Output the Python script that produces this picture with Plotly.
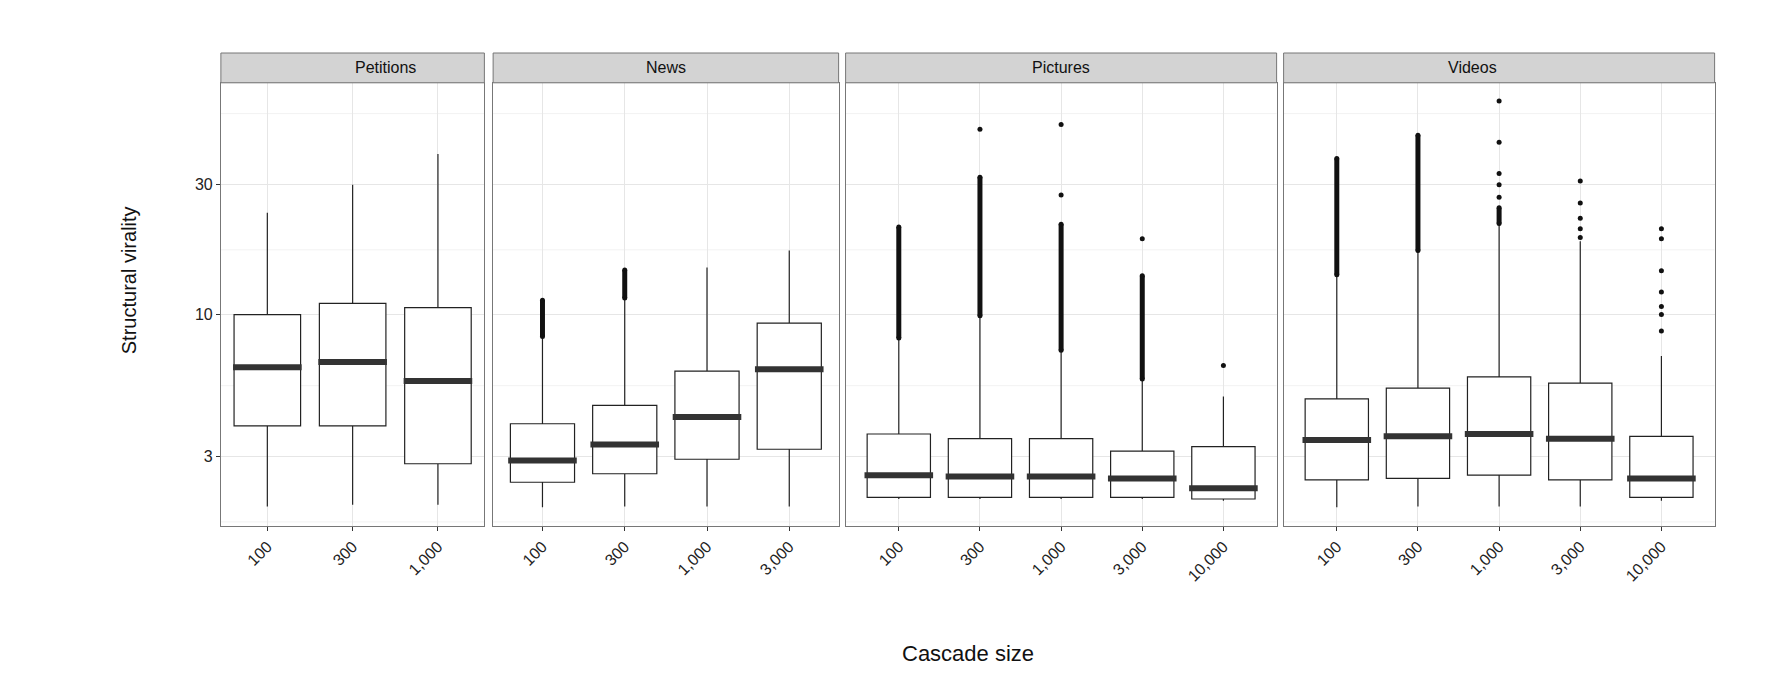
import plotly.graph_objects as go

panels = ["Petitions", "News", "Pictures", "Videos"]
sizes = {
    "Petitions": ["100", "300", "1,000"],
    "News": ["100", "300", "1,000", "3,000"],
    "Pictures": ["100", "300", "1,000", "3,000", "10,000"],
    "Videos": ["100", "300", "1,000", "3,000", "10,000"],
}
low = {"Petitions": [1.97, 2.0, 2.0], "News": [1.96, 1.97, 1.97, 1.97],
       "Pictures": [2.1, 2.1, 2.1, 2.1, 2.07], "Videos": [1.96, 1.97, 1.97, 1.97, 2.07]}
q1 = {"Petitions": [3.9, 3.9, 2.83], "News": [2.42, 2.6, 2.94, 3.2],
      "Pictures": [2.13, 2.13, 2.13, 2.13, 2.1], "Videos": [2.47, 2.5, 2.57, 2.47, 2.13]}
med = {"Petitions": [6.4, 6.7, 5.7], "News": [2.91, 3.33, 4.2, 6.3],
       "Pictures": [2.57, 2.54, 2.54, 2.5, 2.3], "Videos": [3.46, 3.57, 3.64, 3.5, 2.5]}
q3 = {"Petitions": [10.0, 11.0, 10.6], "News": [3.97, 4.64, 6.2, 9.3],
      "Pictures": [3.64, 3.5, 3.5, 3.15, 3.27], "Videos": [4.9, 5.37, 5.9, 5.6, 3.57]}
high = {"Petitions": [23.7, 30.0, 38.9], "News": [8.3, 11.5, 14.9, 17.2],
        "Pictures": [8.2, 9.9, 7.4, 5.8, 5.0], "Videos": [14.0, 17.2, 21.6, 18.6, 7.05]}
# dense outlier streaks: (size, from, to)
streaks = {"News": [("100", 8.3, 11.3), ("300", 11.5, 14.6)],
           "Pictures": [("100", 8.2, 21.0), ("300", 9.9, 32.0), ("1,000", 7.4, 21.5), ("3,000", 5.8, 13.9)],
           "Videos": [("100", 14.0, 37.5), ("300", 17.2, 45.6), ("1,000", 21.6, 24.7)]}
# isolated outliers
points = {"Pictures": [("300", 48.0), ("1,000", 27.5), ("1,000", 50.0), ("3,000", 19.0), ("10,000", 6.5)],
          "Videos": [("1,000", 27.0), ("1,000", 30.0), ("1,000", 33.0), ("1,000", 43.0), ("1,000", 61.0),
                     ("3,000", 19.2), ("3,000", 20.7), ("3,000", 22.6), ("3,000", 25.7), ("3,000", 31.0),
                     ("10,000", 8.7), ("10,000", 10.0), ("10,000", 10.7), ("10,000", 12.1),
                     ("10,000", 14.5), ("10,000", 19.0), ("10,000", 20.7)]}

domains = [(0.122, 0.273), (0.278, 0.476), (0.480, 0.727), (0.731, 0.978)]
ydom = [0, 0.937]

fig = go.Figure()
for i, p in enumerate(panels):
    xa = "x" if i == 0 else f"x{i+1}"
    ya = "y" if i == 0 else f"y{i+1}"
    fig.add_trace(go.Box(x=sizes[p], q1=q1[p], median=med[p], q3=q3[p],
                         lowerfence=low[p], upperfence=high[p],
                         fillcolor="white", line=dict(color="#222", width=1.2),
                         width=0.78, whiskerwidth=0, boxpoints=False, xaxis=xa, yaxis=ya,
                         showlegend=False, hoverinfo="skip"))
    fig.add_trace(go.Scatter(x=sizes[p], y=med[p], mode="markers", xaxis=xa, yaxis=ya,
                             marker=dict(symbol="line-ew-open", size=49, color="#333",
                                         line=dict(color="#333", width=6)),
                             showlegend=False, hoverinfo="skip"))
    for s, a, b in streaks.get(p, []):
        fig.add_trace(go.Scatter(x=[s, s], y=[a, b], mode="lines+markers", xaxis=xa, yaxis=ya,
                                 line=dict(color="#111", width=5), marker=dict(size=5, color="#111"),
                                 showlegend=False, hoverinfo="skip"))
    if p in points:
        fig.add_trace(go.Scatter(x=[s for s, _ in points[p]], y=[v for _, v in points[p]],
                                 mode="markers", xaxis=xa, yaxis=ya,
                                 marker=dict(size=5, color="#111"), showlegend=False, hoverinfo="skip"))
    axkey = "xaxis" if i == 0 else f"xaxis{i+1}"
    aykey = "yaxis" if i == 0 else f"yaxis{i+1}"
    fig.layout[axkey] = dict(domain=domains[i], anchor=ya, type="category",
                             categoryarray=sizes[p], tickangle=-45, showgrid=True,
                             gridcolor="#e6e6e6", ticks="outside", ticklen=4, tickcolor="#333",
                             tickfont=dict(size=16, color="#222"), showline=True, mirror=True,
                             linecolor="#777", zeroline=False)
    fig.layout[aykey] = dict(domain=ydom, anchor=xa, type="log", range=[0.223, 1.852],
                             tickvals=[3, 10, 30], ticktext=["3", "10", "30"],
                             showticklabels=(i == 0), ticks="outside" if i == 0 else "",
                             ticklen=4, tickcolor="#333", tickfont=dict(size=16, color="#222"),
                             gridcolor="#e6e6e6", showline=True, mirror=True, linecolor="#777",
                             zeroline=False)
    for v in [1.73, 5.48, 17.3, 54.8]:
        fig.add_shape(type="line", xref=f"{xa} domain", yref=ya, x0=0, x1=1, y0=v, y1=v,
                      line=dict(color="#f2f2f2", width=1), layer="below")
    fig.add_shape(type="rect", xref="paper", yref="paper", x0=domains[i][0], x1=domains[i][1],
                  y0=0.937, y1=1.0, fillcolor="#d3d3d3", line=dict(color="#777", width=1))
    fig.add_annotation(text=p, xref="paper", yref="paper", x=sum(domains[i]) / 2, y=0.9685,
                       yanchor="middle", showarrow=False, font=dict(size=16, color="#111"))

fig.add_annotation(text="Cascade size", xref="paper", yref="paper", x=0.55, y=-0.3,
                   showarrow=False, font=dict(size=22, color="#111"))
fig.add_annotation(text="Structural virality", xref="paper", yref="paper", x=0.062, y=0.52,
                   textangle=-90, showarrow=False, font=dict(size=20, color="#111"))

fig.update_layout(width=1784, height=690, plot_bgcolor="white", paper_bgcolor="white",
                  margin=dict(l=0, r=39, t=45, b=172), font=dict(family="Liberation Sans"))
fig.layout.yaxis.domain = ydom
fig.write_html("out.html")
